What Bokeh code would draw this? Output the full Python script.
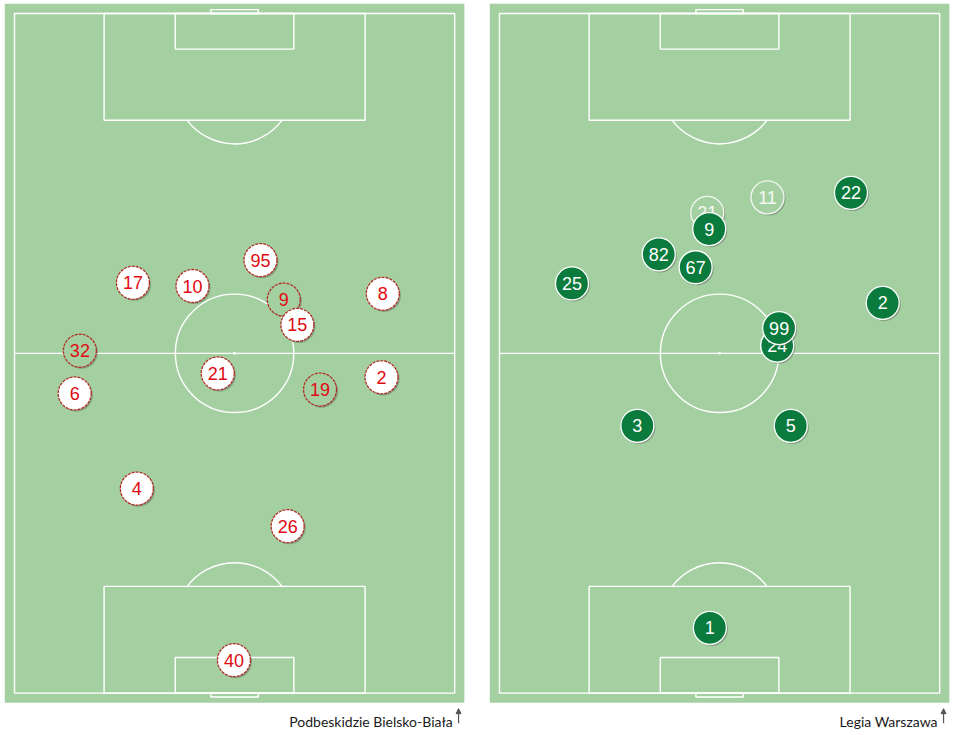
import numpy as np
from bokeh.plotting import figure
from bokeh.layouts import row
from bokeh.models import Range1d, Arrow, NormalHead
from bokeh.core.properties import value
from bokeh.embed import file_html
from bokeh.resources import INLINE

# ---------------- data (pitch metres: x across 0-68, y along 0-105, attacking up) -------------
home_team = "Podbeskidzie Bielsko-Biała"
home_numbers = ["9", "32", "19", "17", "10", "95", "8", "15", "21", "2", "6", "4", "26", "40"]
home_x = [41.6, 10.1, 47.2, 18.3, 27.5, 38.0, 56.9, 43.7, 31.4, 56.7, 9.3, 18.9, 42.2, 33.9]
home_y = [60.8, 52.9, 46.9, 63.4, 62.9, 66.9, 61.7, 56.9, 49.4, 48.8, 46.3, 31.6, 25.8, 5.1]
home_faded = [True, True, True, False, False, False, False, False, False, False, False, False, False, False]

away_team = "Legia Warszawa"
away_numbers = ["21", "11", "22", "9", "82", "67", "25", "2", "24", "99", "3", "5", "1"]
away_x = [32.1, 41.4, 54.3, 32.4, 24.6, 30.3, 11.2, 59.2, 42.9, 43.2, 21.3, 45.0, 32.5]
away_y = [74.2, 76.6, 77.3, 71.7, 67.8, 65.8, 63.3, 60.3, 53.7, 56.4, 41.3, 41.3, 10.1]
away_faded = [True, True, False, False, False, False, False, False, False, False, False, False, False]

# ---------------- style ----------------
S = 6.473            # px per metre
PL, PW = 105.0, 68.0
GREEN = "#a4d0a1"
LINE = "white"
MARK_D = 33          # marker diameter px
H = 733


def pitch(fig):
    m = 1.5
    fig.quad(left=-m, right=PW + m, bottom=-m, top=PL + m, fill_color=GREEN, line_color=None)
    lw = 1.4
    fig.quad(left=0, right=PW, bottom=0, top=PL, fill_color=None, line_color=LINE, line_width=lw)
    fig.segment(x0=0, y0=PL / 2, x1=PW, y1=PL / 2, line_color=LINE, line_width=lw)
    fig.circle(x=PW / 2, y=PL / 2, radius=9.15, fill_color=None, line_color=LINE, line_width=lw)
    fig.scatter(x=PW / 2, y=PL / 2, size=3, fill_color=LINE, line_color=None)
    cx = PW / 2
    for end in (0, 1):
        sgn = 1 if end == 0 else -1
        base = 0 if end == 0 else PL
        y_in = base + sgn * 16.5
        fig.quad(left=cx - 20.16, right=cx + 20.16, bottom=min(base, y_in), top=max(base, y_in),
                 fill_color=None, line_color=LINE, line_width=lw)
        y_g = base + sgn * 5.5
        fig.quad(left=cx - 9.16, right=cx + 9.16, bottom=min(base, y_g), top=max(base, y_g),
                 fill_color=None, line_color=LINE, line_width=lw)
        y_goal = base - sgn * 0.6
        fig.quad(left=cx - 3.66, right=cx + 3.66, bottom=min(base, y_goal), top=max(base, y_goal),
                 fill_color=None, line_color=LINE, line_width=lw)
        spot = base + sgn * 11
        th = np.arccos(5.5 / 9.15)
        mid = np.pi / 2 if end == 0 else -np.pi / 2
        fig.arc(x=cx, y=spot, radius=9.15, start_angle=mid - th, end_angle=mid + th,
                line_color=LINE, line_width=lw)


def make_fig(width, x_left_px):
    x0 = -x_left_px / S
    y_top = PL + 13 / S
    fig = figure(width=width, height=H, output_backend="svg", toolbar_location=None,
                 x_range=Range1d(x0, x0 + width / S), y_range=Range1d(y_top - H / S, y_top),
                 min_border=0, outline_line_color=None, background_fill_color="white",
                 border_fill_color="white")
    fig.xaxis.visible = False
    fig.yaxis.visible = False
    fig.grid.visible = False
    pitch(fig)
    return fig


def players(fig, nums, xs, ys, faded, fill, txt, edge, edge_dash):
    xs = np.asarray(xs, float)
    ys = np.asarray(ys, float)
    d = 1.6 / S
    for n, x, y, f in zip(nums, xs, ys, faded):
        fig.scatter(x=x + d, y=y - d, size=MARK_D, fill_color="#555555", fill_alpha=0.4,
                    line_color=None)
        if f:
            fig.scatter(x=x, y=y, size=MARK_D, fill_color=GREEN, fill_alpha=1.0,
                        line_color=edge if edge != "white" else "#f4f8f3",
                        line_width=1.3, line_dash=edge_dash)
            tc = txt if txt != "white" else "#f4f8f3"
        else:
            fig.scatter(x=x, y=y, size=MARK_D, fill_color=fill, line_color=edge,
                        line_width=1.3, line_dash=edge_dash)
            tc = txt
        fig.text(x=x, y=y, text=[n], text_align="center", text_baseline="middle",
                 text_font=value("Liberation Sans"), text_font_size="18px", text_color=tc)


def label(fig, name):
    fig.text(x=67.7, y=-4.45, text=[name], text_align="right", text_baseline="middle",
             text_font=value("Lato"), text_font_size="14px", text_color="#1a1a1a")
    fig.add_layout(Arrow(x_start=68.6, y_start=-30 / S, x_end=68.6, y_end=-15.5 / S,
                         line_color="#555555", line_width=1.2,
                         end=NormalHead(size=5, fill_color="#555555", line_color="#555555")))


p1 = make_fig(477, 14)
players(p1, home_numbers, home_x, home_y, home_faded, "white", "#e00a12", "#b03028", "3 1")
label(p1, home_team)

p2 = make_fig(477, 22)
players(p2, away_numbers, away_x, away_y, away_faded, "#0a7b3c", "white", "white", "solid")
label(p2, away_team)

layout = row(p1, p2, spacing=0)
open("out.html", "w").write(file_html(layout, INLINE))
